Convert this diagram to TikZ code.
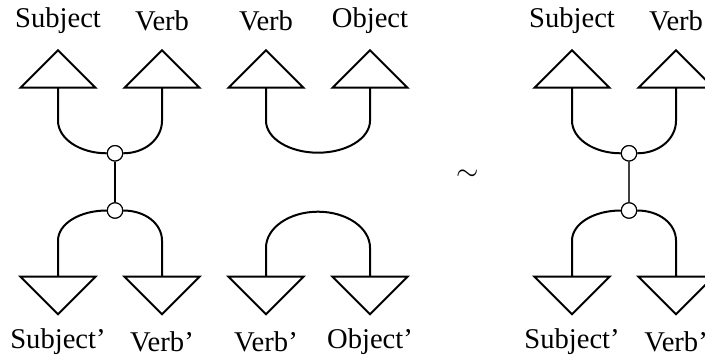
\documentclass[tikz,border=0pt]{standalone}
\usepackage{fontspec}
\setmainfont{Liberation Serif}
\usepackage{tikz}

\begin{document}
\begin{tikzpicture}[
    x=0.5pt, y=0.5pt,
    tri/.style={draw, line width=1pt, line join=miter},
    wire/.style={draw, line width=1pt},
    thinwire/.style={draw, line width=0.55pt, black!75},
    dot/.style={draw, circle, fill=white, line width=0.55pt, minimum size=7.7pt, inner sep=0pt},
    lbl/.style={font=\fontsize{14.3}{16}\selectfont, inner sep=0pt},
    uptri/.pic={\draw[tri] (-37.5,0) -- (37.5,0) -- (0,37.5) -- cycle;},
    downtri/.pic={\draw[tri] (-37.5,0) -- (37.5,0) -- (0,-37.5) -- cycle;}
  ]
    \path[use as bounding box, clip] (0,0) rectangle (705,359);

    % left: joined
    \coordinate (subj) at (58,271.3);
    \coordinate (verb) at (162,271.3);
    \coordinate (subjp) at (58,82.3);
    \coordinate (verbp) at (162,82.3);
    \node[dot] (jtop) at (115,205.7) {};
    \node[dot] (jbot) at (115,148.5) {};
    \pic at (subj) {uptri};
    \pic at (verb) {uptri};
    \pic at (subjp) {downtri};
    \pic at (verbp) {downtri};
    \node[lbl] (lsubj) at (58,338.3) {Subject};
    \node[lbl] (lverb) at (162,338.3) {Verb};
    \node[lbl] (lsubjp) at (58,17.3) {Subject'};
    \node[lbl] (lverbp) at (162,17.3) {Verb'};

    \draw[wire] (subj) -- ++(0,-33) .. controls +(0,-18) and +(-27,0) .. (jtop.west);
    \draw[wire] (verb) -- ++(0,-33) .. controls +(0,-18) and +(22,0) .. (jtop.east);
    \draw[wire] (jtop) -- (jbot);
    \draw[wire] (subjp) -- ++(0,36) .. controls +(0,17) and +(-27,0) .. (jbot.west);
    \draw[wire] (verbp) -- ++(0,36) .. controls +(0,17) and +(22,0) .. (jbot.east);
    \node[dot] at (jtop) {};
    \node[dot] at (jbot) {};

    % middle: cup and cap
    \coordinate (verb2) at (266,271.3);
    \coordinate (obj) at (370,271.3);
    \coordinate (verb2p) at (266,82.3);
    \coordinate (objp) at (370,82.3);
    \pic at (verb2) {uptri};
    \pic at (obj) {uptri};
    \pic at (verb2p) {downtri};
    \pic at (objp) {downtri};
    \node[lbl] (lverb2) at (266,338.3) {Verb};
    \node[lbl] (lobj) at (370,338.3) {Object};
    \node[lbl] (lverb2p) at (266,17.3) {Verb'};
    \node[lbl] (lobjp) at (370,17.3) {Object'};

    \draw[wire] (verb2) -- ++(0,-33) arc[start angle=180, end angle=360, x radius=52, y radius=32] -- (obj);
    \draw[wire] (verb2p) -- ++(0,29) arc[start angle=180, end angle=0, x radius=52, y radius=36] -- (objp);

    \node[lbl] (sim) at (468,184) {$\sim$};

    % right: joined, thin link
    \coordinate (subj3) at (572,271.3);
    \coordinate (verb3) at (676,271.3);
    \coordinate (subj3p) at (572,82.3);
    \coordinate (verb3p) at (676,82.3);
    \node[dot] (ktop) at (629,205.7) {};
    \node[dot] (kbot) at (629,148.5) {};
    \pic at (subj3) {uptri};
    \pic at (verb3) {uptri};
    \pic at (subj3p) {downtri};
    \pic at (verb3p) {downtri};
    \node[lbl] (lsubj3) at (572,338.3) {Subject};
    \node[lbl] (lverb3) at (676,338.3) {Verb};
    \node[lbl] (lsubj3p) at (572,17.3) {Subject'};
    \node[lbl] (lverb3p) at (676,17.3) {Verb'};

    \draw[wire] (subj3) -- ++(0,-33) .. controls +(0,-18) and +(-27,0) .. (ktop.west);
    \draw[wire] (verb3) -- ++(0,-33) .. controls +(0,-18) and +(22,0) .. (ktop.east);
    \draw[thinwire] (ktop) -- (kbot);
    \draw[wire] (subj3p) -- ++(0,36) .. controls +(0,17) and +(-27,0) .. (kbot.west);
    \draw[wire] (verb3p) -- ++(0,36) .. controls +(0,17) and +(22,0) .. (kbot.east);
    \node[dot] at (ktop) {};
    \node[dot] at (kbot) {};
  \end{tikzpicture}
\end{document}
